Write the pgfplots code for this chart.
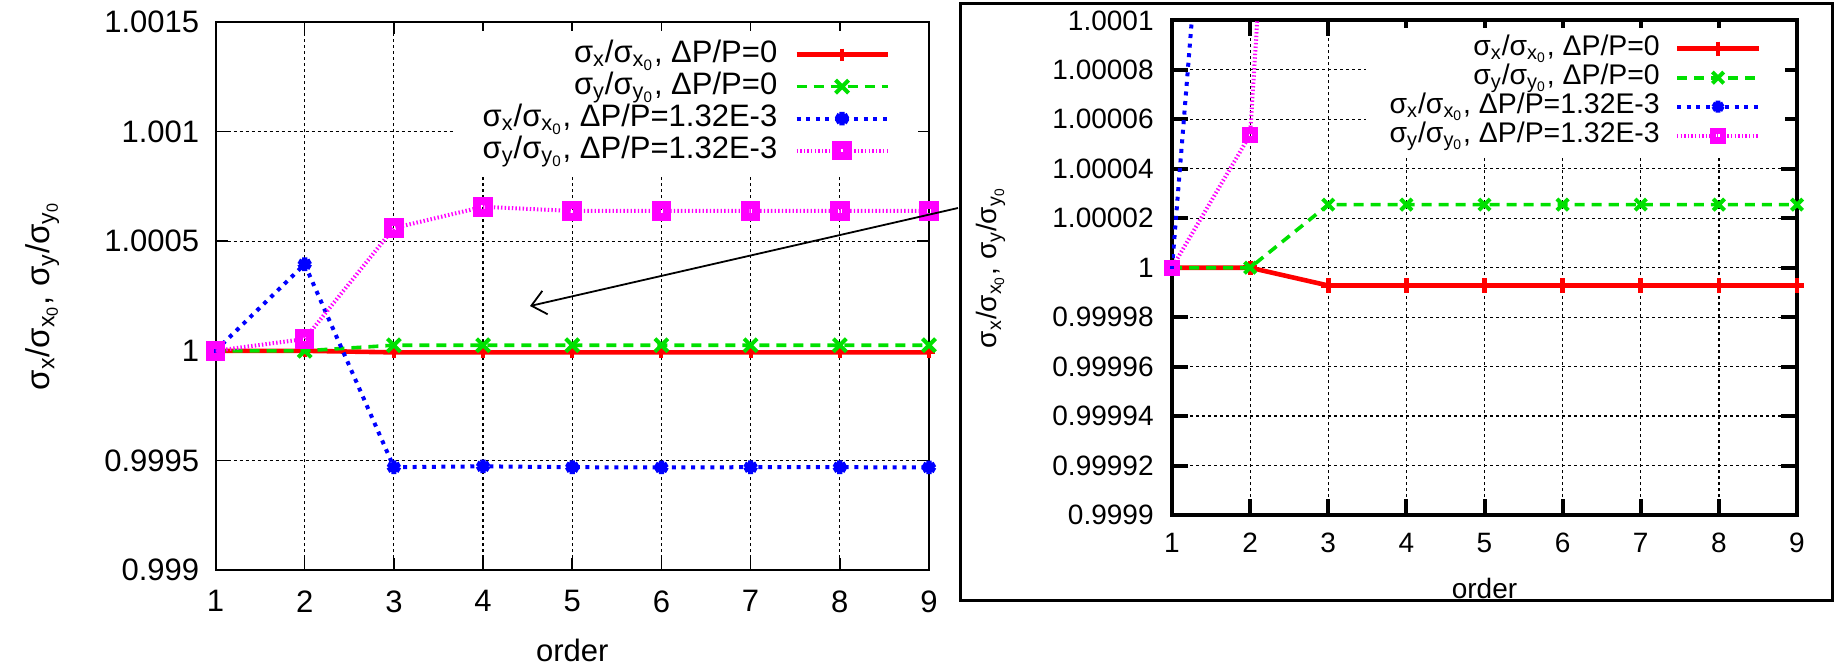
\documentclass[border=0pt]{standalone}
\usepackage{fontspec}
\setmainfont{Liberation Sans}
\usepackage{pgfplots}
\usepackage{pgfplotstable}
\pgfplotsset{compat=1.18}
\usetikzlibrary{arrows.meta}

% sigma/sigma0 - 1, in units of 1e-5
% (kept as deviations: pgfplots floats are too coarse for 1.00002 vs 1)
\pgfplotstableread{
order sxa   sya   sxb   syb
1     0     0     0     0
2     0     0     39.5  5.38
3     -0.72 2.55  -53.1 56.0
4     -0.72 2.55  -52.7 65.7
5     -0.72 2.55  -53.1 63.8
6     -0.72 2.55  -53.2 63.8
7     -0.72 2.55  -53.1 63.8
8     -0.72 2.55  -53.1 63.8
9     -0.72 2.55  -53.2 63.8
}\ratios

\newcommand{\sr}[1]{σ\textsubscript{#1}/σ\textsubscript{#1\textsubscript{0}}}
\definecolor{gpred}{HTML}{FF0000}
\definecolor{gpgreen}{HTML}{00E000}
\definecolor{gpblue}{HTML}{0000FF}
\definecolor{gpmag}{HTML}{FF00FF}

\pgfplotsset{
  sxa/.style 2 args={gpred, line width=2.3pt, mark=+, mark size=#1, mark options={solid, line width=#2}},
  sya/.style 2 args={gpgreen, line width=1.8pt, dash pattern=on 5pt off 3.5pt, mark=x, mark size=#1, mark options={solid, line width=#2}},
  sxb/.style 2 args={gpblue, line width=2pt, dash pattern=on 2pt off 2.8pt, mark=asterisk, mark size=#1, mark options={solid, line width=#2}},
  syb/.style 2 args={gpmag, line width=2pt, dash pattern=on 0.7pt off 1.1pt, mark=square, mark size=#1, mark options={solid, line width=#2, fill=white}},
  gpaxis/.style={
    scale only axis, xmin=1, xmax=9,
    xtick={1,2,3,4,5,6,7,8,9}, xticklabels={1,2,3,4,5,6,7,8,9},
    tick align=inside, tick pos=both,
    grid=major, grid style={black, line width=0.6pt, dash pattern=on 1.5pt off 1.5pt},
    clip mode=individual,
    xlabel={order},
    ylabel={\sr{x}, \sr{y}},
    legend plot pos=right, legend cell align=right,
    yticklabel style={inner sep=0pt, anchor=east},
    xticklabel style={inner sep=0pt, anchor=north},
  },
}

\begin{document}
\begin{tikzpicture}
\useasboundingbox (0,0) rectangle (917pt,333pt);

% left panel
\begin{axis}[gpaxis,
  at={(107.75pt,48pt)}, anchor=south west,
  width=356.75pt, height=274pt,
  ymin=-100, ymax=150,
  ytick={-100,-50,0,50,100,150},
  yticklabels={0.999,0.9995,1,1.0005,1.001,1.0015},
  tick label style={font=\fontsize{15.5}{18}\selectfont},
  label style={font=\fontsize{15.5}{18}\selectfont},
  ylabel style={font=\fontsize{16.5}{19}\selectfont},
  major tick length=6pt,
  axis line style={line width=1pt},
  every tick/.style={black, line width=0.8pt},
  yticklabel style={xshift=-8pt},
  xticklabel style={yshift=-10pt},
  ylabel style={at={(axis description cs:-0.243,0.5)}, anchor=center},
  xlabel style={at={(axis description cs:0.5,-0.146)}, anchor=center},
  legend style={at={(rel axis cs:0.985,0.985)}, anchor=north east,
    fill=white, draw=none, font=\fontsize{15.5}{18}\selectfont,
    inner xsep=14pt, inner ysep=4pt, row sep=0pt, column sep=8.5pt,
    nodes={inner sep=0pt, text height=12pt, text depth=4pt}},
  legend image code/.code={\draw[mark repeat=2,mark phase=2] plot coordinates {(0pt,0pt) (22.75pt,0pt) (45.5pt,0pt)};},
]
\addplot[sxa={3pt}{2pt}] table[x=order, y=sxa] {\ratios};
\addlegendentry{\sr{x}, ΔP/P=0}
\addplot[sya={4.6pt}{2pt}] table[x=order, y=sya] {\ratios};
\addlegendentry{\sr{y}, ΔP/P=0}
\addplot[sxb={3.4pt}{2.6pt}] table[x=order, y=sxb] {\ratios};
\addlegendentry{\sr{x}, ΔP/P=1.32E-3}
\addplot[syb={2.9pt}{4pt}] table[x=order, y=syb] {\ratios};
\addlegendentry{\sr{y}, ΔP/P=1.32E-3}
\end{axis}

% pointer from the zoomed panel
\draw[line width=0.9pt, -{Straight Barb[length=7pt,width=12pt,line width=0.9pt]}] (479pt,229pt) -- (265pt,180pt);

% frame round the zoomed panel
\draw[line width=1.5pt] (480pt,33pt) rectangle (916pt,331pt);

% right panel (zoom near 1)
\begin{axis}[gpaxis,
  at={(586pt,75.5pt)}, anchor=south west,
  width=312.5pt, height=247.3pt,
  ymin=-10, ymax=10,
  ytick={-10,-8,-6,-4,-2,0,2,4,6,8,10},
  yticklabels={0.9999,0.99992,0.99994,0.99996,0.99998,1,1.00002,1.00004,1.00006,1.00008,1.0001},
  tick label style={font=\fontsize{14}{17}\selectfont},
  label style={font=\fontsize{14}{17}\selectfont},
  major tick length=8pt,
  axis line style={line width=2pt},
  every tick/.style={black, line width=2pt},
  yticklabel style={xshift=-9pt},
  xticklabel style={yshift=-9pt},
  ylabel style={at={(axis description cs:-0.29,0.5)}, anchor=center},
  xlabel style={at={(axis description cs:0.5,-0.148)}, anchor=center},
  legend style={at={(rel axis cs:0.982,0.985)}, anchor=north east,
    fill=white, draw=none, font=\fontsize{14.2}{17}\selectfont,
    inner xsep=12pt, inner ysep=3pt, row sep=0pt, column sep=7.5pt,
    nodes={inner sep=0pt, text height=10.5pt, text depth=4pt}},
  legend image code/.code={\draw[mark repeat=2,mark phase=2] plot coordinates {(0pt,0pt) (20.5pt,0pt) (41pt,0pt)};},
]
\addlegendimage{sxa={3.6pt}{2.4pt}}
\addlegendentry{\sr{x}, ΔP/P=0}
\addlegendimage{sya={4pt}{2pt}}
\addlegendentry{\sr{y}, ΔP/P=0}
\addlegendimage{sxb={3pt}{2.4pt}}
\addlegendentry{\sr{x}, ΔP/P=1.32E-3}
\addlegendimage{syb={2.4pt}{3.2pt}}
\addlegendentry{\sr{y}, ΔP/P=1.32E-3}
\addplot[sxa={3.6pt}{2.4pt}, forget plot] table[x=order, y=sxa] {\ratios};
\addplot[sya={4pt}{2pt}, forget plot] table[x=order, y=sya] {\ratios};
% gnuplot drops segments whose both ends lie outside the range
\addplot[sxb={3pt}{2.4pt}, mark=none, forget plot, restrict x to domain=1:2] table[x=order, y=sxb] {\ratios};
\addplot[syb={2.4pt}{3.2pt}, mark=none, forget plot, restrict x to domain=1:3] table[x=order, y=syb] {\ratios};
% marks only where the points fall inside the zoomed range
\addplot[sxb={3pt}{2.4pt}, only marks, forget plot, restrict y to domain=-10.5:10.5] table[x=order, y=sxb] {\ratios};
\addplot[syb={2.4pt}{3.2pt}, only marks, forget plot, restrict y to domain=-10.5:10.5] table[x=order, y=syb] {\ratios};
\end{axis}
\end{tikzpicture}
\end{document}
